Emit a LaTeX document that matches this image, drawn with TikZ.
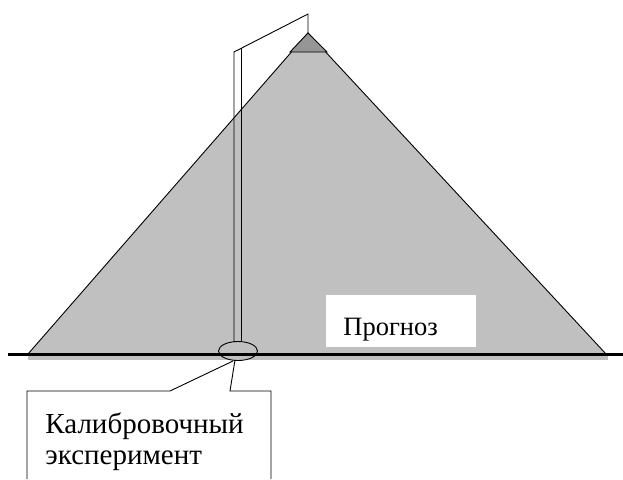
\documentclass[tikz,border=0pt]{standalone}
\usepackage{fontspec}
\usetikzlibrary{shapes.geometric}
\setmainfont{Liberation Serif}
\definecolor{hill}{RGB}{192,192,192}
\definecolor{peak}{RGB}{150,150,150}
\begin{document}
\begin{tikzpicture}[x=1pt, y=-1pt, line width=0.9pt, line join=miter, line cap=butt]
	\useasboundingbox (0,0) rectangle (623,479);
	\coordinate (L) at (28,354);
	\coordinate (T) at (308,33);
	\coordinate (R) at (606,354);
	\coordinate (Pl) at (290,52);
	\coordinate (Pr) at (327,52);
	\fill[hill] (28,354) rectangle (608,360);
	\fill[hill] (L) -- (T) -- (R) -- cycle;
	\draw (L) -- (T) -- (R);
	\filldraw[fill=peak] (T) -- (Pl) -- (Pr) -- cycle;
	\fill[white] (326,295) rectangle (476,347);
	\node[anchor=base west, inner sep=0pt, font=\fontsize{26.5}{30}\selectfont] (forecast) at (343,335) {Прогноз};
	\draw[line width=3pt] (8,354) -- (623,354);
	% mast
	\coordinate (M1) at (234,52);
	\coordinate (M2) at (241,48.4);
	\coordinate (Mt) at (308,14);
	\draw (234,342) -- (M1) -- (Mt) -- (T);
	\draw (M2) -- (241,342);
	\node[draw, ellipse, minimum width=39pt, minimum height=19pt, inner sep=0pt] (site) at (238,351) {};
	% callout
	\draw (233,361) -- (170,391) -- (27,391) -- (27,479);
	\draw (235,360) -- (230,391) -- (271,391) -- (271,479);
	\node[anchor=base west, inner sep=0pt, font=\fontsize{29}{31}\selectfont] (calib) at (45,433) {Калибровочный};
	\node[anchor=base west, inner sep=0pt, font=\fontsize{29}{31}\selectfont] (exp) at (45,464) {эксперимент};
\end{tikzpicture}
\end{document}
